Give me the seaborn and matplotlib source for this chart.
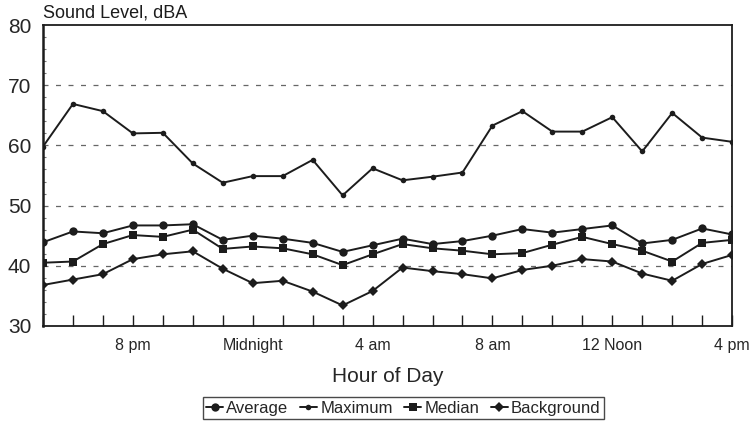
import numpy as np
import pandas as pd
import matplotlib
matplotlib.use("Agg")
import matplotlib.pyplot as plt
import seaborn as sns

hours = list(range(24))  # 5 pm ... 4 pm next day
tick_positions = [3, 7, 11, 15, 19, 23]
tick_labels = ["8 pm", "Midnight", "4 am", "8 am", "12 Noon", "4 pm"]

average = [43.9, 45.7, 45.4, 46.7, 46.7, 46.9, 44.3, 45.0, 44.5, 43.8, 42.3, 43.4,
           44.5, 43.6, 44.1, 45.0, 46.1, 45.5, 46.1, 46.7, 43.7, 44.3, 46.2, 45.2]
maximum = [59.8, 66.9, 65.7, 62.0, 62.1, 57.0, 53.8, 54.9, 54.9, 57.6, 51.7, 56.2,
           54.2, 54.8, 55.5, 63.3, 65.7, 62.3, 62.3, 64.7, 59.0, 65.4, 61.3, 60.6]
median = [40.5, 40.7, 43.6, 45.1, 44.8, 46.0, 42.8, 43.2, 42.9, 41.9, 40.1, 41.9,
          43.6, 42.9, 42.5, 41.9, 42.1, 43.5, 44.8, 43.6, 42.5, 40.7, 43.8, 44.3]
background = [36.8, 37.7, 38.6, 41.1, 41.9, 42.4, 39.5, 37.1, 37.5, 35.7, 33.4, 35.8,
              39.7, 39.1, 38.6, 37.9, 39.3, 40.0, 41.1, 40.7, 38.7, 37.5, 40.3, 41.8]

sns.set_style("white")
plt.rcParams["font.family"] = ["Liberation Sans", "DejaVu Sans"]

ink = "#1c1c1c"
fig = plt.figure(figsize=(7.54, 4.26), dpi=100)
ax = fig.add_axes([0.057, 0.235, 0.914, 0.706])

series = [("Average", average, "o", 6),
          ("Maximum", maximum, "o", 4),
          ("Median", median, "s", 6),
          ("Background", background, "D", 5.5)]
for name, vals, mk, ms in series:
    sns.lineplot(x=hours, y=vals, ax=ax, color=ink, linewidth=1.4,
                 marker=mk, markersize=ms, markeredgewidth=0,
                 markerfacecolor=ink, label=name)

ax.set_xlim(0, 23)
ax.set_ylim(30, 80)
ax.set_yticks([30, 40, 50, 60, 70, 80])
ax.set_xticks(hours, minor=True)
ax.set_xticks(tick_positions)
ax.set_xticklabels(tick_labels, fontsize=11.5)
ax.tick_params(axis="x", which="both", direction="in", length=8, width=1, color=ink,
               bottom=True, pad=9)
ax.tick_params(axis="y", which="major", left=False, labelsize=15, pad=5)
ax.set_yticks(np.arange(30, 80, 2), minor=True)
ax.tick_params(axis="y", which="minor", direction="in", length=2, width=0.8,
               color="#777777", left=True)

for yv in [40, 50, 60, 70]:
    ax.axhline(yv, color="#666666", linestyle=(0, (4, 6)), linewidth=0.9, zorder=0)

for side in ["left", "right", "top", "bottom"]:
    ax.spines[side].set_color(ink)
    ax.spines[side].set_linewidth(1.3)
ax.spines["left"].set_linewidth(1.8)

ax.set_xlabel("Hour of Day", fontsize=15, labelpad=10)
ax.set_ylabel("")
fig.text(0.057, 0.959, "Sound Level, dBA", fontsize=13, ha="left", va="baseline", color=ink)

leg = ax.legend(loc="upper center", bbox_to_anchor=(0.523, -0.237), ncol=4,
                frameon=True, fancybox=False, fontsize=12, handlelength=1.0,
                handletextpad=0.2, columnspacing=0.7, borderpad=0.2,
                borderaxespad=0, edgecolor=ink)
leg.get_frame().set_linewidth(1.0)

fig.savefig("out.png", dpi=100)
